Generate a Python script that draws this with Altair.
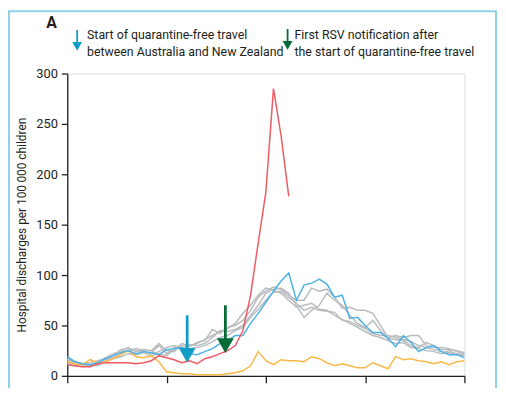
import altair as alt
import pandas as pd

# ---------------- data ----------------
weeks = list(range(53))

rate_2021 = [11, 10, 9, 9, 12, 13, 13, 13, 13, 12, 13, 15, 20, 18, 16, 13, 15, 12,
             17, 19, 22, 25, 30, 45, 80, 132, 182, 285, 238, 178]
rate_2020 = [14, 12, 11, 16, 13, 14, 17, 21, 25, 19, 18, 20, 14, 4, 3, 2, 2, 1, 1, 1,
             1, 2, 3, 5, 10, 24, 15, 11, 16, 15, 15, 14, 19, 17, 13, 10, 12, 10, 8, 8,
             13, 10, 7, 19, 16, 17, 15, 14, 12, 14, 11, 14, 15]
rate_2019 = [19, 14, 12, 11, 13, 17, 20, 23, 25, 22, 24, 23, 21, 26, 27, 28, 22, 21,
             24, 27, 32, 35, 40, 40, 52, 62, 73, 84, 94, 102, 75, 90, 92, 96, 91, 78,
             80, 57, 58, 50, 43, 43, 37, 29, 40, 33, 24, 28, 30, 24, 21, 21, 18]
rate_grey_a = [14, 12, 11, 10, 12, 15, 20, 26, 27, 25, 24, 23, 30, 22, 28, 30, 29, 33,
               35, 46, 42, 48, 50, 55, 65, 78, 84, 88, 86, 80, 75, 75, 87, 84, 86, 78,
               67, 68, 65, 65, 62, 50, 38, 40, 38, 40, 40, 30, 28, 28, 27, 24, 22]
rate_grey_b = [17, 14, 12, 13, 15, 17, 18, 22, 25, 27, 25, 22, 24, 28, 30, 27, 31, 30,
               32, 38, 45, 44, 46, 50, 60, 70, 82, 86, 87, 82, 70, 58, 65, 70, 82, 75,
               70, 60, 52, 48, 55, 45, 37, 36, 35, 30, 28, 33, 30, 26, 26, 25, 23]
rate_grey_c = [12, 10, 9, 11, 10, 14, 17, 19, 22, 21, 23, 20, 22, 20, 26, 28, 27, 28,
               30, 34, 38, 40, 45, 48, 58, 66, 75, 83, 84, 78, 72, 65, 68, 65, 64, 63,
               55, 54, 50, 47, 42, 40, 40, 38, 36, 34, 30, 28, 26, 24, 23, 22, 21]
rate_grey_d = [16, 13, 12, 10, 14, 18, 22, 24, 28, 24, 26, 25, 32, 25, 24, 32, 30, 32,
               36, 40, 44, 47, 52, 62, 70, 80, 87, 85, 82, 75, 68, 70, 72, 66, 65, 60,
               56, 52, 48, 44, 40, 38, 35, 32, 33, 28, 27, 25, 24, 22, 25, 21, 20]

arrow_names = ["travel", "first_rsv"]
arrow_week = [15.7, 20.7]
arrow_top = [60, 70]
arrow_head = [20.5, 30]

y_ticks = [0, 50, 100, 150, 200, 250, 300]
x_ticks = [0, 13, 26, 39, 52]

legend_1 = ["Start of quarantine-free travel", "between Australia and New Zealand"]
legend_2 = ["First RSV notification after", "the start of quarantine-free travel"]
y_title = "Hospital discharges per 100\u2009000 children"
panel = "A"

# ---------------- tables ----------------
def long(name, vals):
    return pd.DataFrame({"week": weeks[:len(vals)], "value": vals, "series": name})

grey = pd.concat([long("g1", rate_grey_a), long("g2", rate_grey_b),
                  long("g3", rate_grey_c), long("g4", rate_grey_d)])
d2020 = long("2020", rate_2020)
d2019 = long("2019", rate_2019)
d2021 = long("2021", rate_2021)
arrows = pd.DataFrame({"name": arrow_names, "week": arrow_week,
                       "top": arrow_top, "head": arrow_head})

FONT = "Roboto"
INK = "#231f20"
BLUE_ARROW = "#119cc7"
GREEN_ARROW = "#056b36"

xs = alt.Scale(domain=[0, 52], nice=False, zero=False)
ys = alt.Scale(domain=[0, 300], nice=False)

x_enc = alt.X("week:Q", scale=xs,
              axis=alt.Axis(values=x_ticks, labels=False, title=None, grid=False,
                            tickSize=7, tickColor=INK, domainColor=INK,
                            tickWidth=1.3, domainWidth=1.3))
y_enc = alt.Y("value:Q", scale=ys,
              axis=alt.Axis(values=y_ticks, title=y_title, grid=False,
                            tickSize=6, tickColor=INK, domainColor=INK,
                            tickWidth=1.3, domainWidth=1.3,
                            labelFont=FONT, labelFontSize=13, labelColor=INK,
                            labelPadding=4,
                            titleFont=FONT, titleFontSize=12, titleFontWeight="normal",
                            titleColor=INK, titleX=-46, titleY=153,
                            titleAngle=-90, titleAlign="center",
                            titleBaseline="middle"))

one = alt.Data(values=[{}])

frame = alt.Chart(one).mark_rect(fill="white", fillOpacity=0, stroke="#8fd1e4",
                                 strokeWidth=2).encode(
    x=alt.value(-59), x2=alt.value(434), y=alt.value(-63), y2=alt.value(330))

grey_lines = alt.Chart(grey).mark_line(color="#b8bcbf", strokeWidth=1.5).encode(
    x=x_enc, y=y_enc, detail="series:N")
line_2020 = alt.Chart(d2020).mark_line(color="#fbb848", strokeWidth=1.5).encode(
    x="week:Q", y="value:Q")
line_2019 = alt.Chart(d2019).mark_line(color="#4cb2e6", strokeWidth=1.5).encode(
    x="week:Q", y="value:Q")
line_2021 = alt.Chart(d2021).mark_line(color="#ef5b63", strokeWidth=1.5).encode(
    x="week:Q", y="value:Q")

arrow_color = alt.Color("name:N", scale=alt.Scale(domain=arrow_names,
                                                  range=[BLUE_ARROW, GREEN_ARROW]),
                        legend=None)
shafts = alt.Chart(arrows).mark_rule(strokeWidth=2.8).encode(
    x="week:Q", y="top:Q", y2="head:Q", color=arrow_color)
heads = alt.Chart(arrows).mark_point(shape="triangle-down", filled=True, size=290,
                                     opacity=1).encode(
    x="week:Q", y="head:Q", color=arrow_color)

# legend (drawn in pixel space above the plot)
def leg_arrow(xp, y_top, y_head, col):
    s = alt.Chart(one).mark_rule(color=col, strokeWidth=1.8).encode(
        x=alt.value(xp), y=alt.value(y_top), y2=alt.value(y_head))
    h = alt.Chart(one).mark_point(shape="triangle-down", filled=True, size=100,
                                  color=col, opacity=1).encode(
        x=alt.value(xp), y=alt.value(y_head))
    return s + h

def leg_text(txt, xp, yp):
    return alt.Chart(one).mark_text(align="left", baseline="middle", font=FONT,
                                    fontSize=12.5, color=INK).encode(
        x=alt.value(xp), y=alt.value(yp), text=alt.value(txt))

legend = (leg_arrow(10, -44, -27.5, BLUE_ARROW)
          + leg_arrow(223, -45, -28.5, GREEN_ARROW)
          + leg_text(legend_1[0], 20, -39) + leg_text(legend_1[1], 20, -22)
          + leg_text(legend_2[0], 230, -39) + leg_text(legend_2[1], 230, -22))

panel_label = alt.Chart(one).mark_text(align="center", baseline="middle", font=FONT,
                                       fontSize=16, fontWeight="bold",
                                       color=INK).encode(
    x=alt.value(-16), y=alt.value(-51), text=alt.value(panel))

chart = alt.layer(
    frame, grey_lines, line_2020, line_2019, line_2021, shafts, heads,
    legend, panel_label
).properties(
    width=402, height=306,
    autosize=alt.AutoSizeParams(type="none"),
    padding={"left": 60, "top": 64, "right": 34, "bottom": 10},
).configure_view(stroke=None).configure(font=FONT)

chart.save("out.html", embed_options={"renderer": "svg", "actions": False})
